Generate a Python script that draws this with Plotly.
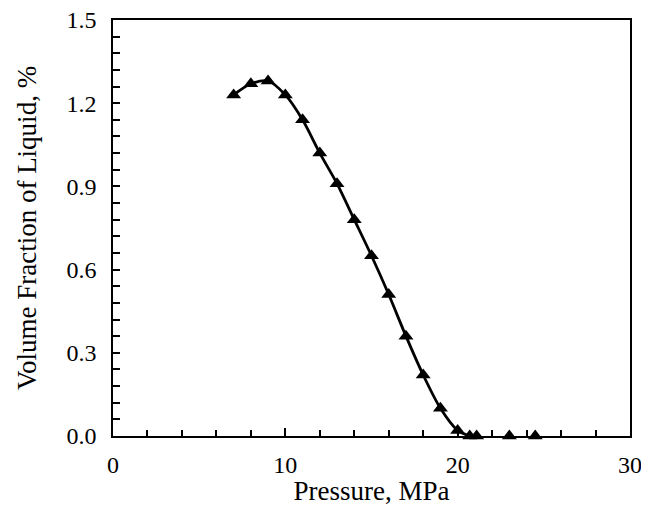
import plotly.graph_objects as go

pressure = [7, 8, 9, 10, 11, 12, 13, 14, 15, 16, 17, 18, 19, 20, 20.7, 21.1, 23.0, 24.5]
liquid = [1.23, 1.27, 1.28, 1.23, 1.14, 1.02, 0.91, 0.78, 0.65, 0.51, 0.36, 0.22, 0.10, 0.02, 0.0, 0.0, 0.0, 0.0]

curve_x = pressure[:15]
curve_y = liquid[:15]

FONT = "Liberation Serif, Times New Roman, serif"

fig = go.Figure()
fig.add_trace(go.Scatter(
    x=curve_x, y=curve_y, mode="lines",
    line=dict(color="black", width=2.8, shape="spline", smoothing=0.8),
    showlegend=False, hoverinfo="skip"))
fig.add_trace(go.Scatter(
    x=pressure, y=liquid, mode="markers",
    marker=dict(symbol="triangle-up", size=13, color="black"),
    showlegend=False, cliponaxis=False))

fig.update_layout(
    width=641, height=498,
    margin=dict(l=105, r=19, t=12, b=70),
    paper_bgcolor="white", plot_bgcolor="white",
    font=dict(family=FONT, size=24, color="black"),
    xaxis=dict(
        range=[0, 30], dtick=10, tick0=0, automargin=False,
        ticks="inside", ticklen=8, tickwidth=1.5, tickcolor="black",
        minor=dict(dtick=2, ticks="inside", ticklen=6, tickwidth=1.5, tickcolor="black"),
        showgrid=False, zeroline=False,
        showline=True, linecolor="black", linewidth=1.5, mirror=True,
        title=dict(text="Pressure, MPa", font=dict(family=FONT, size=27), standoff=12),
        tickfont=dict(family=FONT, size=24),
        ticklabelstandoff=6, ticklabeloverflow="allow",
    ),
    yaxis=dict(
        range=[0, 1.5], dtick=0.3, tick0=0, tickformat=".1f", automargin=False,
        ticks="inside", ticklen=7, tickwidth=1.5, tickcolor="black",
        minor=dict(dtick=0.06, ticks="inside", ticklen=7, tickwidth=1.5, tickcolor="black"),
        showgrid=False, zeroline=False,
        showline=True, linecolor="black", linewidth=1.5, mirror=True,
        title=dict(text="Volume Fraction of Liquid, %", font=dict(family=FONT, size=27), standoff=22),
        tickfont=dict(family=FONT, size=24),
        ticklabelstandoff=10, ticklabeloverflow="allow",
    ),
)

fig.write_html("out.html")
